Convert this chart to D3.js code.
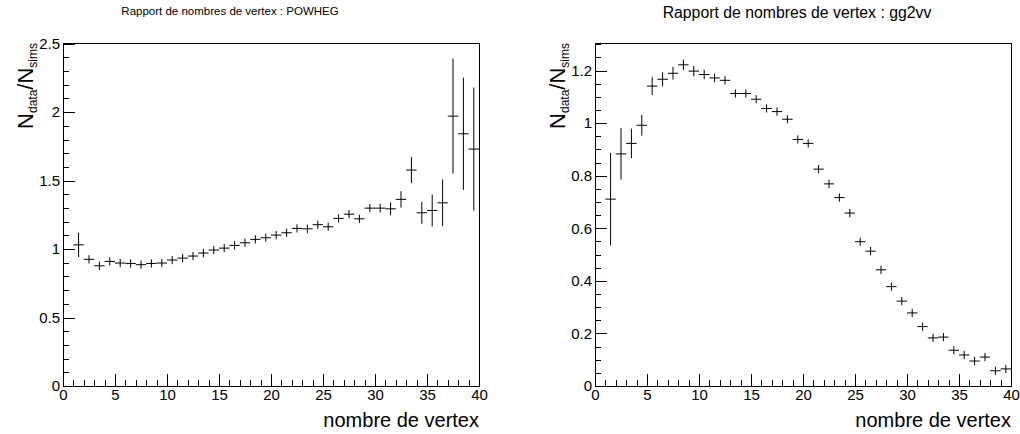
<!DOCTYPE html>
<html>
<head>
<meta charset="utf-8">
<script src="https://cdn.jsdelivr.net/npm/d3@7"></script>
<style>
  body { margin: 0; background: #fff; }
  svg { display: block; font-family: "Liberation Sans", Arial, Helvetica, sans-serif; }
  .tick text { fill: #000; }
</style>
</head>
<body>
<svg width="1020" height="434"></svg>
<script>
// bin centres (bin 0-1 is empty in both histograms)
const binCenters = [1.5, 2.5, 3.5, 4.5, 5.5, 6.5, 7.5, 8.5, 9.5, 10.5, 11.5, 12.5, 13.5, 14.5, 15.5, 16.5, 17.5, 18.5, 19.5, 20.5,
                    21.5, 22.5, 23.5, 24.5, 25.5, 26.5, 27.5, 28.5, 29.5, 30.5, 31.5, 32.5, 33.5, 34.5, 35.5, 36.5, 37.5, 38.5, 39.5];

// ratio data/sim for POWHEG
const powhegValues = [1.031, 0.925, 0.878, 0.910, 0.898, 0.895, 0.886, 0.895, 0.898, 0.920, 0.934, 0.949, 0.971, 0.993, 1.007, 1.027, 1.046, 1.071, 1.083, 1.102,
                      1.119, 1.151, 1.148, 1.178, 1.163, 1.224, 1.255, 1.221, 1.299, 1.299, 1.294, 1.363, 1.577, 1.265, 1.282, 1.338, 1.971, 1.842, 1.730];
const powhegErrors = [0.089, 0.027, 0.015, 0.008, 0.005, 0.004, 0.004, 0.004, 0.004, 0.004, 0.005, 0.005, 0.005, 0.006, 0.006, 0.007, 0.008, 0.009, 0.010, 0.011,
                      0.012, 0.013, 0.014, 0.016, 0.017, 0.020, 0.023, 0.025, 0.029, 0.032, 0.047, 0.060, 0.095, 0.080, 0.117, 0.170, 0.420, 0.410, 0.450];

// ratio data/sim for gg2vv
const gg2vvValues = [0.711, 0.883, 0.923, 0.992, 1.141, 1.167, 1.190, 1.222, 1.198, 1.185, 1.172, 1.163, 1.113, 1.113, 1.091, 1.056, 1.044, 1.015, 0.938, 0.923,
                     0.825, 0.769, 0.717, 0.658, 0.549, 0.513, 0.442, 0.378, 0.323, 0.278, 0.226, 0.183, 0.186, 0.136, 0.118, 0.095, 0.110, 0.058, 0.065];
const gg2vvErrors = [0.176, 0.098, 0.056, 0.039, 0.034, 0.027, 0.024, 0.020, 0.020, 0.018, 0.016, 0.015, 0.013, 0.013, 0.012, 0.012, 0.011, 0.011, 0.010, 0.010,
                     0.009, 0.009, 0.008, 0.008, 0.007, 0.007, 0.006, 0.006, 0.005, 0.005, 0.005, 0.004, 0.004, 0.004, 0.004, 0.003, 0.004, 0.003, 0.003];

const xTicks = [0, 5, 10, 15, 20, 25, 30, 35, 40];
const powhegYTicks = [0, 0.5, 1, 1.5, 2, 2.5];
const gg2vvYTicks = [0, 0.2, 0.4, 0.6, 0.8, 1, 1.2];

const svg = d3.select("svg");

const panels = [
    { title: "Rapport de nombres de vertex : POWHEG", titleX: 230, titleSize: 11.5, titleY: 15,
      left: 63, right: 479, yMax: 2.505, values: powhegValues, errors: powhegErrors,
      yTicks: powhegYTicks, yMinor: d3.range(0, 2.51, 0.1) },
    { title: "Rapport de nombres de vertex : gg2vv", titleX: 797, titleSize: 15.8, titleY: 17.5,
      left: 595, right: 1011, yMax: 1.305, values: gg2vvValues, errors: gg2vvErrors,
      yTicks: gg2vvYTicks, yMinor: d3.range(0, 1.301, 0.05) }
];

const frameTop = 43, frameBottom = 386;

panels.forEach(p => {
    const x = d3.scaleLinear().domain([0, 40]).range([p.left, p.right]);
    const y = d3.scaleLinear().domain([0, p.yMax]).range([frameBottom, frameTop]);

    // title
    svg.append("text")
        .attr("x", p.titleX)
        .attr("y", p.titleY)
        .attr("text-anchor", "middle")
        .attr("font-size", p.titleSize)
        .text(p.title);

    // minor ticks
    svg.append("g")
        .attr("transform", `translate(${p.left},0)`)
        .call(d3.axisLeft(y).tickValues(p.yMinor).tickSize(-6).tickSizeOuter(0).tickFormat(""))
        .call(g => g.select(".domain").remove());
    svg.append("g")
        .attr("transform", `translate(0,${frameBottom})`)
        .call(d3.axisBottom(x).tickValues(d3.range(0, 41, 1)).tickSize(-6).tickSizeOuter(0).tickFormat(""))
        .call(g => g.select(".domain").remove());

    // major ticks + labels
    svg.append("g")
        .attr("transform", `translate(${p.left},0)`)
        .call(d3.axisLeft(y).tickValues(p.yTicks).tickSize(-12).tickSizeOuter(0).tickPadding(3).tickFormat(d => d))
        .call(g => g.select(".domain").remove())
        .call(g => g.selectAll("text").attr("font-size", 15).attr("font-family", null));
    svg.append("g")
        .attr("transform", `translate(0,${frameBottom})`)
        .call(d3.axisBottom(x).tickValues(xTicks).tickSize(-12).tickSizeOuter(0).tickPadding(3).tickFormat(d => d))
        .call(g => g.select(".domain").remove())
        .call(g => g.selectAll("text").attr("font-size", 15).attr("font-family", null));

    svg.selectAll(".tick line").attr("stroke", "#000").attr("shape-rendering", "crispEdges");

    // frame
    svg.append("rect")
        .attr("x", p.left)
        .attr("y", frameTop)
        .attr("width", p.right - p.left)
        .attr("height", frameBottom - frameTop)
        .attr("fill", "none")
        .attr("stroke", "#000")
        .attr("stroke-width", 1)
        .attr("shape-rendering", "crispEdges");

    // axis titles
    svg.append("text")
        .attr("x", p.right)
        .attr("y", 427)
        .attr("text-anchor", "end")
        .attr("font-size", 20)
        .text("nombre de vertex");

    const yt = svg.append("text")
        .attr("transform", `translate(${p.left - 30},${frameTop}) rotate(-90)`)
        .attr("text-anchor", "end")
        .attr("font-size", 22);
    yt.append("tspan").text("N");
    yt.append("tspan").attr("font-size", 12).attr("dy", 4).text("data");
    yt.append("tspan").attr("dy", -4).text("/N");
    yt.append("tspan").attr("font-size", 12).attr("dy", 4).text("sims");

    // data points with error bars
    const pts = svg.append("g").selectAll("g")
        .data(binCenters.map((c, i) => ({ c, v: p.values[i], e: p.errors[i] })))
        .enter().append("g");

    pts.append("line")
        .attr("x1", d => x(d.c - 0.5))
        .attr("x2", d => x(d.c + 0.5))
        .attr("y1", d => y(d.v))
        .attr("y2", d => y(d.v))
        .attr("stroke", "#000");

    pts.append("line")
        .attr("x1", d => x(d.c))
        .attr("x2", d => x(d.c))
        .attr("y1", d => y(Math.min(d.v + Math.max(d.e, 0.012 * p.yMax), p.yMax)))
        .attr("y2", d => y(d.v - Math.max(d.e, 0.012 * p.yMax)))
        .attr("stroke", "#000");
});
</script>
</body>
</html>
